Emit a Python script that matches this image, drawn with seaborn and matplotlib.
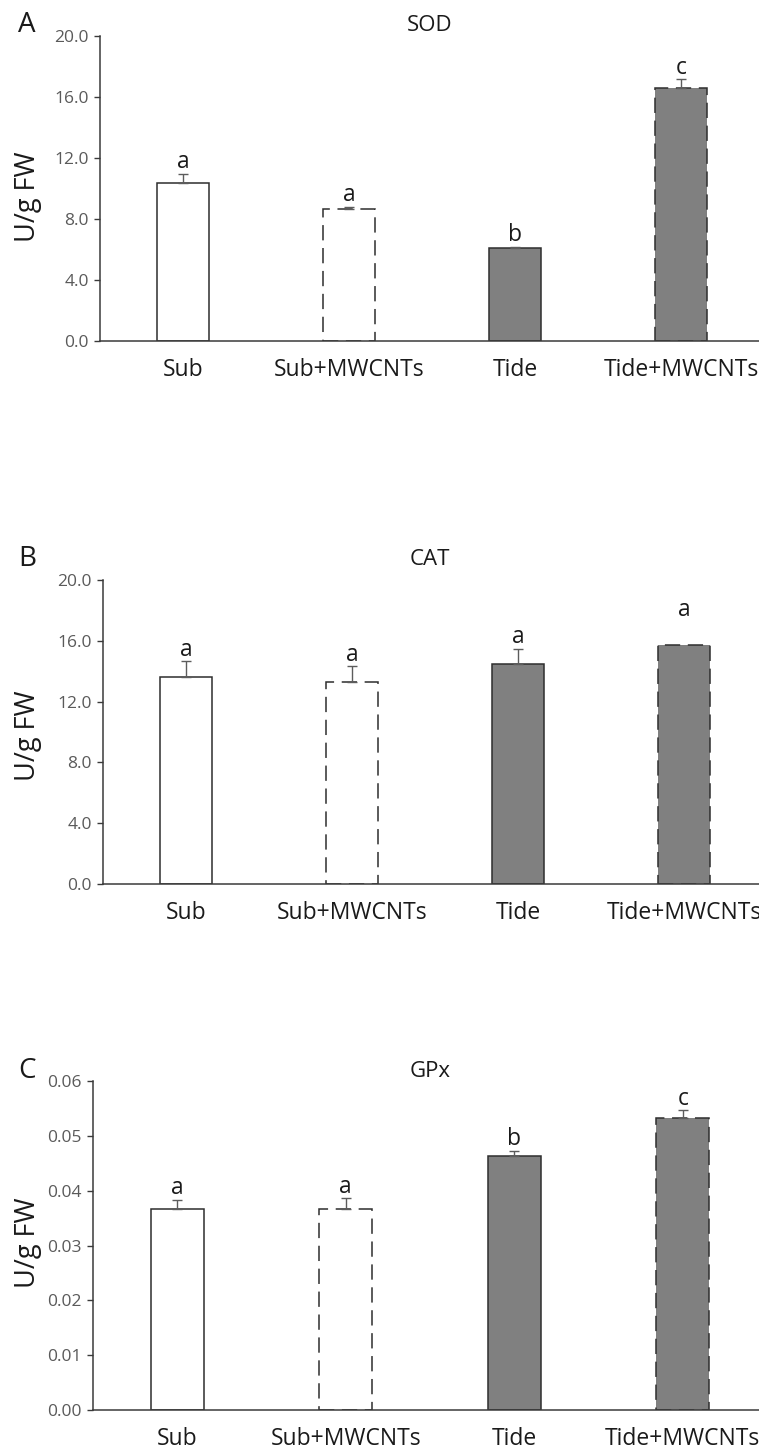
import numpy as np
import pandas as pd
import matplotlib
matplotlib.use("Agg")
import matplotlib.pyplot as plt
import seaborn as sns
from matplotlib.ticker import FormatStrFormatter, MultipleLocator

# Treatment groups
groups = ["Sub", "Sub+MWCNTs", "Tide", "Tide+MWCNTs"]

# SOD activity (U/g FW): mean, standard error, significance letters
sod_mean = [10.38, 8.64, 6.08, 16.61]
sod_se = [0.57, 0.15, 0.10, 0.55]
sod_letters = ["a", "a", "b", "c"]

# CAT activity (U/g FW)
cat_mean = [13.64, 13.31, 14.49, 15.72]
cat_se = [1.00, 1.00, 0.99, 0.00]
cat_letters = ["a", "a", "a", "a"]

# GPx activity (U/g FW)
gpx_mean = [0.0367, 0.0367, 0.0464, 0.0533]
gpx_se = [0.0016, 0.0019, 0.0009, 0.0014]
gpx_letters = ["a", "a", "b", "c"]

W, H = 759, 1452
DPI = 100

sns.set_theme(style="ticks")
plt.rcParams["font.family"] = ["Open Sans", "DejaVu Sans"]

fig = plt.figure(figsize=(W / DPI, H / DPI), dpi=DPI, facecolor="white")

GREY = "#808080"
EDGE = "#2e2e2e"
AXC = "#3a3a3a"
fills = {"Sub": "white", "Sub+MWCNTs": "white", "Tide": GREY, "Tide+MWCNTs": GREY}
edge_styles = {"Sub": "solid", "Sub+MWCNTs": (0, (10, 5)),
               "Tide": "solid", "Tide+MWCNTs": (0, (10, 5))}


def px_axes(left, top, right, bottom):
    """Axes rectangle from pixel edges (origin at the top-left corner)."""
    return fig.add_axes([left / W, 1 - bottom / H, (right - left) / W, (bottom - top) / H])


panels = [
    dict(name="SOD", tag="A", mean=sod_mean, se=sod_se, letters=sod_letters,
         box=(100, 36, 764, 341), ymax=20.0, step=4.0, fmt="%.1f",
         title_y=31, ylab_y=197, lift={}),
    dict(name="CAT", tag="B", mean=cat_mean, se=cat_se, letters=cat_letters,
         box=(103, 580, 767, 884), ymax=20.0, step=4.0, fmt="%.1f",
         title_y=565, ylab_y=736, lift={3: 17}),
    dict(name="GPx", tag="C", mean=gpx_mean, se=gpx_se, letters=gpx_letters,
         box=(93, 1081, 767, 1410), ymax=0.06, step=0.01, fmt="%.2f",
         title_y=1077, ylab_y=1243, lift={}),
]

for p in panels:
    ax = px_axes(*p["box"])
    df = pd.DataFrame({"group": groups, "value": p["mean"]})
    sns.barplot(data=df, x="group", y="value", hue="group", order=groups,
                hue_order=groups, palette=fills, legend=False, width=0.313,
                saturation=1, edgecolor=EDGE, linewidth=1.1, errorbar=None, ax=ax)
    for patch, g in zip(ax.patches, groups):
        patch.set_linestyle(edge_styles[g])
        patch.set_zorder(2)

    xs = np.array([pt.get_x() + pt.get_width() / 2 for pt in ax.patches])
    means = np.array(p["mean"])
    se = np.array(p["se"])
    shown = se > 0
    ax.errorbar(xs[shown], means[shown], yerr=[np.zeros(shown.sum()), se[shown]],
                fmt="none", ecolor="#5c5c5c", elinewidth=1.0, capsize=3.5,
                capthick=1.0, zorder=3)

    for i, (x, m, e, lab) in enumerate(zip(xs, means, se, p["letters"])):
        ax.annotate(lab, xy=(x, m + e), xytext=(0, 4 + p["lift"].get(i, 0)),
                    textcoords="offset points", ha="center", va="baseline",
                    fontsize=16.5, color="#1a1a1a", zorder=4)

    ax.set_xlim(-0.5, 3.5)
    ax.set_ylim(0, p["ymax"])
    ax.yaxis.set_major_locator(MultipleLocator(p["step"]))
    ax.yaxis.set_major_formatter(FormatStrFormatter(p["fmt"]))
    ax.set_xlabel("")
    ax.set_ylabel("U/g FW", fontsize=19.5, color="#1a1a1a")
    ax.yaxis.set_label_coords(42 / W, 1 - p["ylab_y"] / H, transform=fig.transFigure)

    for side in ("top", "right"):
        ax.spines[side].set_visible(False)
    for side in ("left", "bottom"):
        ax.spines[side].set_linewidth(1.1)
        ax.spines[side].set_color(AXC)
        ax.spines[side].set_zorder(3)
    ax.set_facecolor("white")
    ax.tick_params(axis="y", direction="out", length=4, width=1.0, color=AXC,
                   labelsize=12.5, labelcolor="#5a5a5a", pad=4)
    ax.tick_params(axis="x", length=0, labelsize=16.5, labelcolor="#1a1a1a", pad=12)

    fig.text(27 / W, 1 - (p["title_y"] + 1) / H, p["tag"], ha="center",
             va="baseline", fontsize=20, color="#1a1a1a")
    fig.text(430 / W, 1 - p["title_y"] / H, p["name"], ha="center",
             va="baseline", fontsize=16, color="#1a1a1a")

fig.savefig("out.png", dpi=DPI, facecolor="white")
